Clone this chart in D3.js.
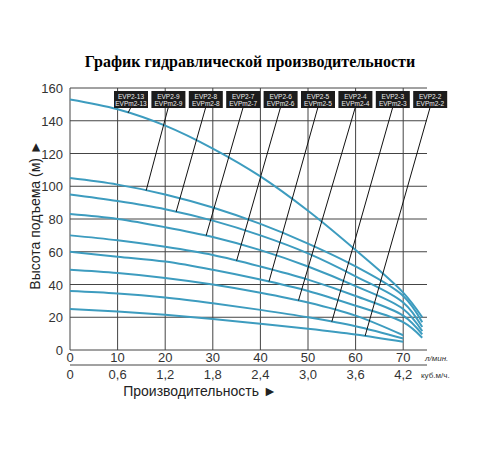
<!DOCTYPE html>
<html><head><meta charset="utf-8">
<script src="https://cdn.jsdelivr.net/npm/d3@7"></script>
<style>body{margin:0;background:#fff;font-family:"Liberation Sans",Arial,sans-serif}</style>
</head><body><div id="chart"></div>
<script>
"use strict";

var flow = [0, 10, 20, 30, 40, 50, 60, 70, 74];
var flowShort = [0, 10, 20, 30, 40, 50, 60, 70];
var models = ["EVP2-13","EVP2-9","EVP2-8","EVP2-7","EVP2-6","EVP2-5","EVP2-4","EVP2-3","EVP2-2"];
var modelsM = ["EVPm2-13","EVPm2-9","EVPm2-8","EVPm2-7","EVPm2-6","EVPm2-5","EVPm2-4","EVPm2-3","EVPm2-2"];
var heads = [
  [153,147,137,123,106,85,61,35,20],
  [105,101,95,87,77,65,51,33,17],
  [95,91,86,79,70,59,45,29,14],
  [83,80,75,69,61,51,39,25,11.5],
  [70,67,63,58,51,43,33,21,9.5],
  [60,57,54,49,43,36,27,17,7.5],
  [49,47,44,40,35,29,21,9],
  [36,34.5,32,28.5,24.5,20,14.5,7],
  [25,23.5,21.5,19,16,13,9.5,5]
];
var leaderFlow = [12.2, 16, 22.3, 28.6, 35, 41.8, 48, 55, 62];
var yTicks = [0,20,40,60,80,100,120,140,160];
var xTicks = [0,10,20,30,40,50,60,70];
var m3Labels = ["0","0,6","1,2","1,8","2,4","3,0","3,6","4,2"];

var width = 500, height = 450;
var svg = d3.select("#chart").append("svg").attr("width", width).attr("height", height);

var x = d3.scaleLinear().domain([0, 75]).range([70, 427]);
var y = d3.scaleLinear().domain([0, 160]).range([350, 88]);
var grid = "#444";

svg.append("text").attr("x", 250).attr("y", 67).attr("text-anchor", "middle")
  .style("font-family", "'Liberation Serif',serif").style("font-weight", "bold").style("font-size", "16px")
  .text("График гидравлической производительности");

// grid
svg.selectAll("line.h").data(yTicks).enter().append("line")
  .attr("x1", x(0)).attr("x2", x(75)).attr("y1", y).attr("y2", y)
  .attr("stroke", grid).attr("stroke-width", 1);
svg.selectAll("line.v").data(xTicks).enter().append("line")
  .attr("x1", x).attr("x2", x).attr("y1", y(160)).attr("y2", y(0))
  .attr("stroke", grid).attr("stroke-width", 1);
svg.append("line").attr("x1", x(0)).attr("x2", x(75)).attr("y1", 365).attr("y2", 365)
  .attr("stroke", grid);

svg.selectAll("text.yt").data(yTicks).enter().append("text")
  .attr("x", 63).attr("y", function(d) { return y(d) + 5; }).attr("text-anchor", "end")
  .style("font-size", "13px").attr("fill", "#333").text(function(d) { return d; });
svg.selectAll("text.xt").data(xTicks).enter().append("text")
  .attr("x", x).attr("y", 362).attr("text-anchor", "middle")
  .style("font-size", "13px").attr("fill", "#333").text(function(d) { return d; });
svg.selectAll("text.xm").data(xTicks).enter().append("text")
  .attr("x", x).attr("y", 379).attr("text-anchor", "middle")
  .style("font-size", "13px").attr("fill", "#333").text(function(d, i) { return m3Labels[i]; });
svg.append("text").attr("x", 425).attr("y", 361).style("font-size", "8px").style("font-style", "italic")
  .attr("fill", "#333").text("л/мин.");
svg.append("text").attr("x", 421).attr("y", 378).style("font-size", "8px")
  .attr("fill", "#333").text("куб.м/ч.");

svg.append("text").attr("x", 200).attr("y", 396).attr("text-anchor", "middle")
  .style("font-size", "14px").attr("fill", "#222").text("Производительность ►");
svg.append("text").attr("transform", "translate(40,215) rotate(-90)").attr("text-anchor", "middle")
  .style("font-size", "14px").attr("fill", "#222").text("Высота подъема (м) ►");

// curves
var line = d3.line()
  .x(function(d) { return x(d[0]); })
  .y(function(d) { return y(d[1]); })
  .curve(d3.curveCatmullRom);

function pts(h) {
  var xs = h.length === flow.length ? flow : flowShort;
  return h.map(function(v, i) { return [xs[i], v]; });
}

heads.forEach(function(h) {
  svg.append("path").datum(pts(h)).attr("d", line)
    .attr("fill", "none").attr("stroke", "#3d9cbf").attr("stroke-width", 2);
});

// leaders + labels
function headAt(h, q) {
  var p = pts(h);
  for (var i = 0; i < p.length - 1; i++) {
    if (q >= p[i][0] && q <= p[i + 1][0]) {
      var t = (q - p[i][0]) / (p[i + 1][0] - p[i][0]);
      return p[i][1] + t * (p[i + 1][1] - p[i][1]);
    }
  }
  return p[p.length - 1][1];
}

models.forEach(function(mname, i) {
  var cx = 131 + i * 37.4;
  var q = leaderFlow[i];
  svg.append("line").attr("x1", cx).attr("y1", 107)
    .attr("x2", x(q)).attr("y2", y(headAt(heads[i], q)))
    .attr("stroke", "#111").attr("stroke-width", 1);
  svg.append("rect").attr("x", cx - 17).attr("y", 91).attr("width", 34).attr("height", 17)
    .attr("fill", "#1c1c1c");
  svg.append("text").attr("x", cx).attr("y", 98.5).attr("text-anchor", "middle")
    .style("font-size", "6.5px").attr("fill", "#eee").text(mname);
  svg.append("text").attr("x", cx).attr("y", 106).attr("text-anchor", "middle")
    .style("font-size", "6.5px").attr("fill", "#eee").text(modelsM[i]);
});
</script>
</body></html>
